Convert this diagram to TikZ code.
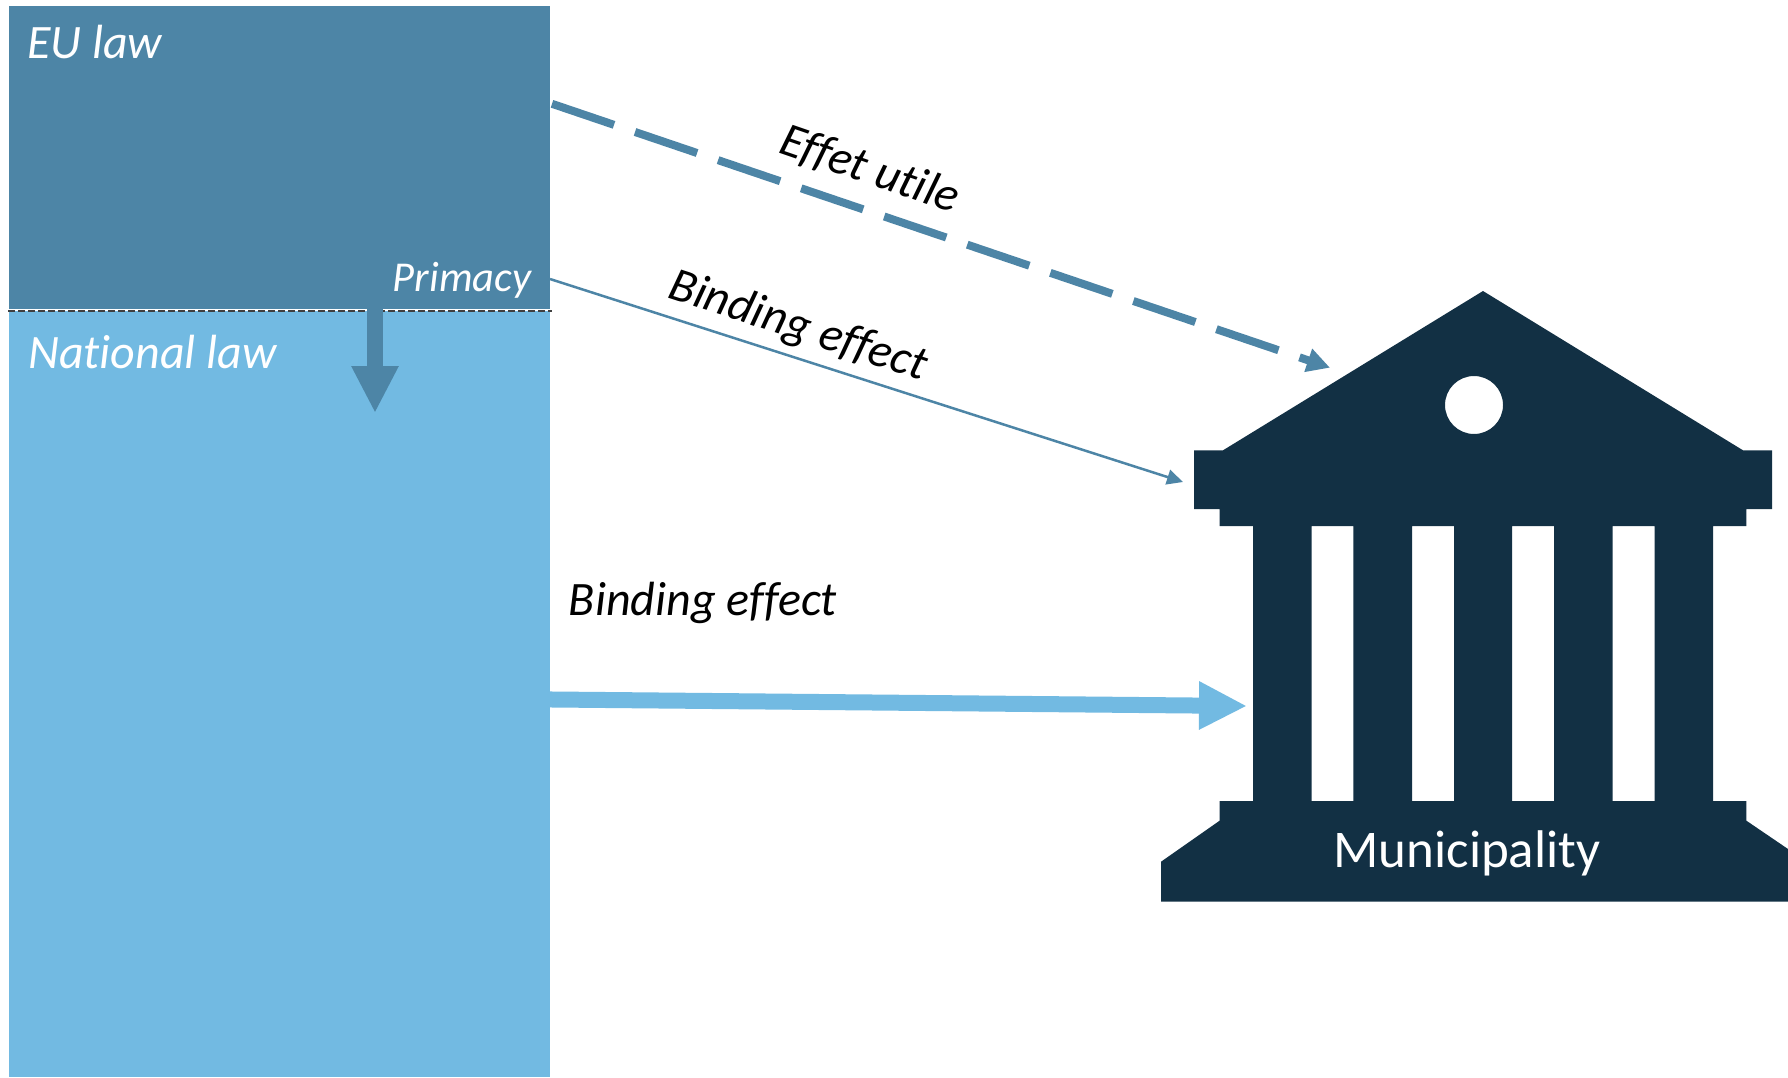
\documentclass[tikz,border=0pt]{standalone}
\usepackage{fontspec}
\setmainfont[Ligatures=NoCommon]{Carlito}
\usetikzlibrary{arrows.meta}
\definecolor{eublue}{HTML}{4D85A6}
\definecolor{natblue}{HTML}{72BAE2}
\definecolor{navy}{HTML}{123044}
\tikzset{
  lawbox/.style={inner sep=0pt,outer sep=0pt,anchor=north west},
  lawtext/.style={inner sep=0pt,text=white,font=\fontsize{48}{54}\selectfont\itshape},
  edgetext/.style={inner sep=0pt,text=black,font=\fontsize{48}{54}\selectfont\itshape},
}
\begin{document}
\begin{tikzpicture}[x=1pt,y=-1pt]
\useasboundingbox (0,0) rectangle (1788,1077);
\fill[white] (0,0) rectangle (1788,1077);
% law blocks
\node[lawbox,fill=natblue,minimum width=541pt,minimum height=766pt] (national) at (9,311) {};
\node[lawbox,fill=eublue,minimum width=541pt,minimum height=305pt] (eu) at (9,6) {};
\draw[white,line width=1.6pt] (8,310) -- (552,310);
\draw[black!75,line width=1.4pt,dash pattern=on 7pt off 3pt] (8,311) -- (552,311);
% building
\fill[navy,even odd rule] (1483,291) -- (1743,450.3) -- (1772,450.3) -- (1772,509) -- (1746.4,509) -- (1746.4,526)
  -- (1713,526) -- (1713,801) -- (1746.4,801) -- (1746.4,820.7) -- (1788,849) -- (1788,901.7) -- (1161,901.7) -- (1161,861.7)
  -- (1219.6,820.7) -- (1219.6,801) -- (1253,801) -- (1253,526) -- (1219.6,526) -- (1219.6,509) -- (1194,509) -- (1194,450.3) -- (1223,450.3) -- cycle
  (1474,405) ellipse [x radius=29,y radius=29]
  (1311.5,526) rectangle (1353.4,801)
  (1412,526) rectangle (1454,801)
  (1512,526) rectangle (1554,801)
  (1612.6,526) rectangle (1654.5,801);
\node[inner sep=0pt,text=white,font=\fontsize{53}{60}\selectfont] (muni) at (1467,853) {Municipality};
% connector ends
\coordinate (primstart) at (375,300);
\coordinate (primend) at (375,413);
\coordinate (dashstart) at (552,103.8);
\coordinate (dashend) at (1330,367.7);
\coordinate (thinstart) at (550,279);
\coordinate (thinend) at (1183,482);
\coordinate (bigstart) at (500,699);
\coordinate (bigend) at (1247,706);
\draw[eublue,line width=16pt,-{Triangle[length=47pt,width=44pt]}] (primstart) -- (primend);
\draw[eublue,line width=8pt,dash pattern=on 65.5pt off 22.2pt,-{Triangle[length=23pt,width=23pt]}] (dashstart) -- (dashend);
\draw[eublue,line width=2.5pt,-{Triangle[length=16pt,width=15pt]}] (thinstart) -- (thinend);
\draw[natblue,line width=16pt,-{Triangle[length=48pt,width=45pt]}] (bigstart) -- (bigend);
% labels
\node[lawtext,anchor=west] (eulabel) at (27,42) {EU law};
\node[lawtext,anchor=west] (natlabel) at (28,352) {National law};
\node[lawtext,font=\fontsize{42.5}{48}\selectfont\itshape] (primlabel) at (462,280) {Primacy};
\node[edgetext,rotate=-19] (efflabel) at (870,170) {Effet utile};
\node[edgetext,rotate=-18] (bindlabel) at (798,327) {Binding effect};
\node[edgetext] (bindlow) at (703,603) {Binding effect};
\end{tikzpicture}
\end{document}
